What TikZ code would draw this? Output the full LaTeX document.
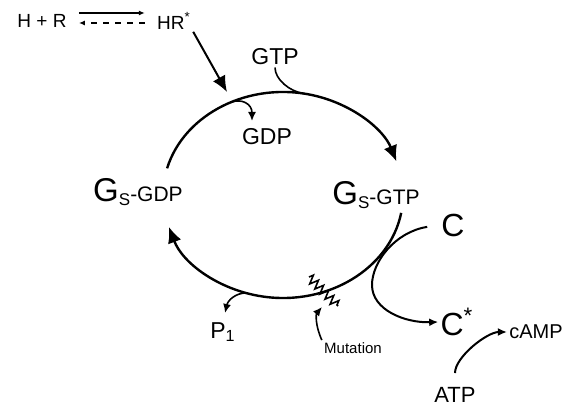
\documentclass[tikz,border=0pt]{standalone}
\usepackage{fontspec}
\setmainfont{Liberation Sans}
\usetikzlibrary{arrows.meta,calc,decorations.pathmorphing}
\newcommand{\Gsname}{{\fontsize{16.5}{18}\selectfont G}\raisebox{-2pt}{\fontsize{8.5}{9}\selectfont S}}
\tikzset{
  cycleline/.style={line width=1.2pt},
  branch/.style={line width=0.8pt},
  bigtip/.style={-{Latex[length=8pt,width=7pt]}},
  smalltip/.style={-{Latex[length=4.5pt,width=4pt]}},
  tinytip/.style={-{Latex[length=3pt,width=2.5pt]}},
  lbl/.style={inner sep=1pt,font=\fontsize{11.5}{13}\selectfont},
  biglbl/.style={inner sep=1pt,font=\fontsize{16}{18}\selectfont},
  smalllbl/.style={inner sep=1pt,font=\fontsize{9.5}{11}\selectfont},
}
\begin{document}
\begin{tikzpicture}[x=0.5pt,y=0.5pt]
\useasboundingbox (0,0) rectangle (573,-406);
% receptor
\node[smalllbl] (hrr) at (42,-21) {H + R};
\node[smalllbl] (hr) at (174,-21) {HR\textsuperscript{*}};
\draw[line width=0.8pt,tinytip,shorten <=5pt,shorten >=5pt] ([yshift=4pt]hrr.east) -- ([yshift=4pt]hr.west);
\draw[line width=0.8pt,tinytip,dashed,shorten <=5pt,shorten >=5pt] ([yshift=-1pt]hr.west) -- ([yshift=-1pt]hrr.east);
% cycle
\coordinate (cen) at (283,-195);
\coordinate (topa) at ($(cen)+(165:120 and 103)$);
\coordinate (bota) at ($(cen)+(-10:120 and 103)$);
\draw[cycleline,bigtip] (topa) arc[start angle=165,end angle=19,x radius=120,y radius=103];
\draw[cycleline,bigtip] (bota) arc[start angle=-10,end angle=-162,x radius=120,y radius=103];
\node[lbl] (gdpl) at (138,-192) {\Gsname{\fontsize{10.5}{12}\selectfont -GDP}};
\node[lbl] (gtpl) at (376,-195) {\Gsname{\fontsize{10.5}{12}\selectfont -GTP}};
\coordinate (hrin) at (227,-92);
\draw[line width=1pt,bigtip] (hr.south east) -- (hrin);
% GTP in, GDP out
\node[lbl] (gtp) at (275,-57) {GTP};
\coordinate (gtpin) at ($(cen)+(80:120 and 103)$);
\draw[branch] (gtp.south) .. controls +(0,-12) and +(-14,2) .. (gtpin);
\node[lbl] (gdp) at (267,-137) {GDP};
\coordinate (gdpout) at ($(cen)+(116:120 and 103)$);
\coordinate (gdptip) at (252,-121);
\draw[branch,smalltip] (gdpout) .. controls (242,-98) and (252,-104) .. (gdptip);
% P1 out
\node[lbl] (pi) at (223,-332) {P\textsubscript{1}};
\coordinate (piout) at ($(cen)+(-108:120 and 103)$);
\coordinate (pitip) at (225,-313);
\draw[branch,smalltip] (piout) .. controls (236,-293) and (228,-300) .. (pitip);
% mutation
\coordinate (mutA) at (309,-277);
\coordinate (mutB) at (338,-306);
\draw[line width=0.8pt,decorate,decoration={zigzag,amplitude=2.2pt,segment length=3.6pt}] (mutA) -- (mutB);
\node[inner sep=1pt,font=\fontsize{7.5}{9}\selectfont] (mut) at (353,-348) {Mutation};
\coordinate (muttip) at (322,-307);
\draw[branch,smalltip] (mut.north west) .. controls (315,-325) and (316,-314) .. (muttip);
% effector
\node[biglbl] (c) at (453,-225) {C};
\node[biglbl] (cstar) at (457,-322) {C\textsuperscript{*}};
\draw[line width=1pt,smalltip,shorten <=6pt] (c.west) .. controls (395,-232) and (372,-262) .. (372,-285) .. controls (372,-310) and (405,-323) .. (cstar.west);
\node[inner sep=1pt,font=\fontsize{10}{12}\selectfont] (camp) at (536,-332) {cAMP};
\node[inner sep=1pt,font=\fontsize{11}{13}\selectfont] (atp) at (455,-395) {ATP};
\draw[line width=1pt,smalltip,shorten <=6pt] (atp.north) .. controls +(0,28) and +(-20,0) .. (camp.west);
\end{tikzpicture}
\end{document}
